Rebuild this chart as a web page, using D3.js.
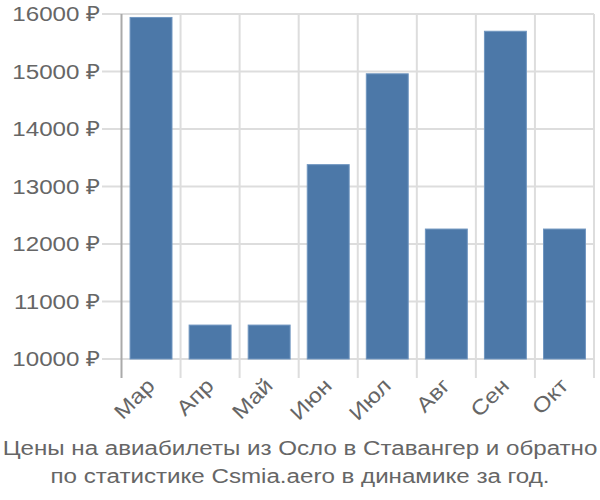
<!DOCTYPE html>
<html><head><meta charset="utf-8">
<script src="https://cdn.jsdelivr.net/npm/d3@7"></script>
<style>body{margin:0;background:#fff}svg{display:block}text{font-family:"Liberation Sans",Arial,sans-serif}</style>
</head><body><svg id="c" width="600" height="500"></svg>
<script>
const months = ["Мар","Апр","Май","Июн","Июл","Авг","Сен","Окт"];
const prices = [15940, 10590, 10590, 13380, 14960, 12260, 15700, 12260];
const yTicks = [10000, 11000, 12000, 13000, 14000, 15000, 16000];
const titleLines = ["Цены на авиабилеты из Осло в Ставангер и обратно","по статистике Csmia.aero в динамике за год."];

(function () {
const svg = d3.select("#c");
const pl = 121.5, pr = 594, pt = 14, pb = 359;
const sx = 1.15, fs = 21;
const x = d3.scaleBand().domain(months).range([pl, pr]).paddingInner(0.29).paddingOuter(0.145);
const y = d3.scaleLinear().domain([10000, 16000]).range([pb, pt]);
const step = x.step();

svg.append("g").selectAll("line").data(yTicks).join("line")
  .attr("x1", 102).attr("x2", pr).attr("y1", d => y(d)).attr("y2", d => y(d))
  .attr("stroke", "#dddddd").attr("stroke-width", 2);
const vx = d3.range(months.length + 1).map(i => pl + i * step);
svg.append("g").selectAll("line").data(vx.slice(1)).join("line")
  .attr("x1", d => d).attr("x2", d => d).attr("y1", pt).attr("y2", 378)
  .attr("stroke", "#dddddd").attr("stroke-width", 2);
svg.append("line").attr("x1", pl).attr("x2", pl).attr("y1", pt).attr("y2", 378)
  .attr("stroke", "#aaaaaa").attr("stroke-width", 2);

svg.append("g").selectAll("rect").data(months).join("rect")
  .attr("x", d => x(d)).attr("width", x.bandwidth())
  .attr("y", (d, i) => y(prices[i])).attr("height", (d, i) => y(10000) - y(prices[i]))
  .attr("fill", "#4c78a8").attr("stroke", "#7096c0").attr("stroke-width", 1);

svg.append("g").selectAll("text").data(yTicks).join("text")
  .attr("transform", d => `translate(100,${y(d)}) scale(${sx},1)`)
  .attr("dy", "0.35em")
  .attr("text-anchor", "end").attr("font-size", fs).attr("fill", "#666")
  .text(d => d + " ₽");

svg.append("g").selectAll("text").data(months).join("text")
  .attr("transform", d => `translate(${x(d) + x.bandwidth() / 2 + 5},${387}) rotate(-45) scale(${sx},1)`)
  .attr("text-anchor", "end").attr("font-size", fs).attr("fill", "#666")
  .text(d => d);

svg.append("g").selectAll("text").data(titleLines).join("text")
  .attr("transform", (d, i) => `translate(300,${455 + i * 27.5}) scale(${sx},1)`)
  .attr("text-anchor", "middle").attr("font-size", fs).attr("fill", "#666")
  .text(d => d);
})();
</script></body></html>
